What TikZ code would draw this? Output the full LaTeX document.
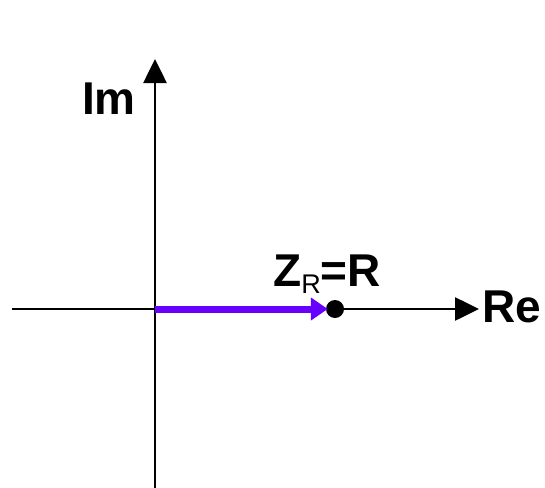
\documentclass[tikz,border=0pt]{standalone}
\usepackage{fontspec}
\setmainfont{Liberation Sans}
\usepackage{xcolor}
\usetikzlibrary{arrows.meta, positioning}
\definecolor{phasor}{RGB}{102,0,255}

\begin{document}
\begin{tikzpicture}[
    x=1pt, y=-1pt,
    axis/.style={draw, line width=2.6pt, -{Triangle[width=23pt, length=24pt]}},
    vec/.style={draw=phasor, line width=7pt, -{Triangle[width=22pt, length=17pt]}, shorten >=-2pt},
    label/.style={font=\fontsize{46}{50}\selectfont\bfseries, inner sep=0pt, anchor=base}
]
\useasboundingbox (0,0) rectangle (545,487);
\coordinate (origin) at (155,309);
\coordinate (reL)    at (12,309);
\coordinate (reR)    at (479,309);
\coordinate (imB)    at (155,490);
\coordinate (imT)    at (155,59);
\node[circle, fill=black, inner sep=0pt, minimum size=18pt] (zr) at (335,309) {};
\draw[axis] (reL) -- (reR);
\draw[axis] (imB) -- (imT);
\draw[vec] (origin) -- (zr.west);
\node[label] (im) at (109,114) {Im};
\node[label] (re) at (512,322) {Re};
\node[label] (zlbl) at (327,286) {Z\raisebox{-7pt}{\fontsize{27}{30}\selectfont\mdseries R}=R};
\end{tikzpicture}
\end{document}
